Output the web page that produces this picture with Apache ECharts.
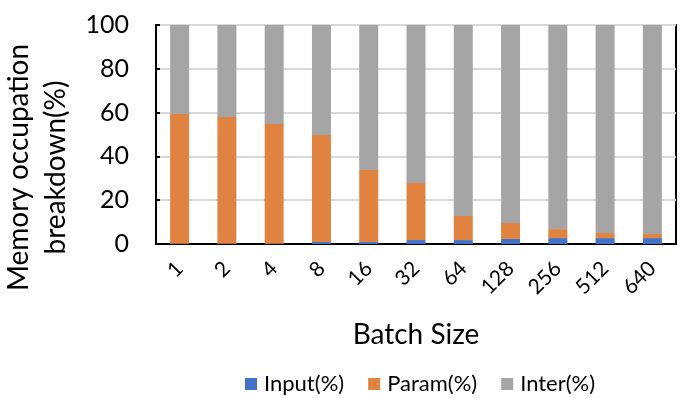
<!DOCTYPE html>
<html>
<head>
<meta charset="utf-8">
<script src="https://cdn.jsdelivr.net/npm/echarts@6/dist/echarts.min.js"></script>
<style>
  html, body { margin: 0; padding: 0; background: #fff; }
  #chart { width: 696px; height: 398px; }
</style>
</head>
<body>
<div id="chart"></div>
<script>
const batchSizes = ["1", "2", "4", "8", "16", "32", "64", "128", "256", "512", "640"];
const inputPct = [0.1, 0.1, 0.1, 0.9, 0.9, 1.8, 1.8, 2.3, 2.7, 2.7, 2.7];
const paramPct = [59.3, 57.9, 54.7, 48.9, 32.9, 26.1, 11.0, 7.3, 4.1, 2.3, 1.9];
const interPct = [40.6, 42.0, 45.2, 50.2, 66.2, 72.1, 87.2, 90.4, 93.2, 95.0, 95.4];
const yTicks = [0, 20, 40, 60, 80, 100];

const font = "Lato";
const chart = echarts.init(document.getElementById("chart"));

const option = {
  animation: false,
  textStyle: { fontFamily: font, color: "#000" },
  grid: {
    left: 156, right: 20, top: 25, bottom: 154,
    outerBoundsMode: "none", containLabel: false,
    show: true, borderColor: "#000", borderWidth: 2
  },
  legend: {
    left: 240, top: 368,
    itemWidth: 12, itemHeight: 12, itemGap: 24,
    icon: "rect",
    textStyle: { fontFamily: font, fontSize: 22, color: "#000", padding: [0, 0, 0, 2] },
    data: ["Input(%)", "Param(%)", "Inter(%)"]
  },
  xAxis: {
    type: "category",
    data: batchSizes,
    name: "Batch Size",
    nameLocation: "middle",
    nameGap: 77,
    nameTextStyle: { fontFamily: font, fontSize: 28, color: "#000" },
    axisLine: { lineStyle: { color: "#000", width: 2 } },
    axisTick: { inside: true, alignWithLabel: true, length: 4, lineStyle: { color: "#000", width: 2 } },
    axisLabel: { rotate: 45, fontSize: 21, color: "#000", margin: 21, fontFamily: font }
  },
  yAxis: {
    type: "value",
    min: yTicks[0], max: yTicks[yTicks.length - 1], interval: 20,
    name: "Memory occupation\nbreakdown(%)",
    nameLocation: "middle",
    nameGap: 64,
    nameTextStyle: { fontFamily: font, fontSize: 28, color: "#000", lineHeight: 37, padding: [0, 66, 0, 0] },
    axisLine: { show: true, lineStyle: { color: "#000", width: 2 } },
    axisTick: { show: true, inside: true, length: 4, lineStyle: { color: "#000", width: 2 } },
    axisLabel: { fontSize: 25, color: "#000", margin: 27, fontFamily: font },
    splitLine: { lineStyle: { color: "#d9d9d9", width: 2 } }
  },
  series: [
    { name: "Input(%)", type: "bar", stack: "mem", data: inputPct, barWidth: 19, itemStyle: { color: "#4472C4" } },
    { name: "Param(%)", type: "bar", stack: "mem", data: paramPct, barWidth: 19, itemStyle: { color: "#E08340" } },
    { name: "Inter(%)", type: "bar", stack: "mem", data: interPct, barWidth: 19, itemStyle: { color: "#A5A5A5" } }
  ]
};

chart.setOption(option);
</script>
</body>
</html>
